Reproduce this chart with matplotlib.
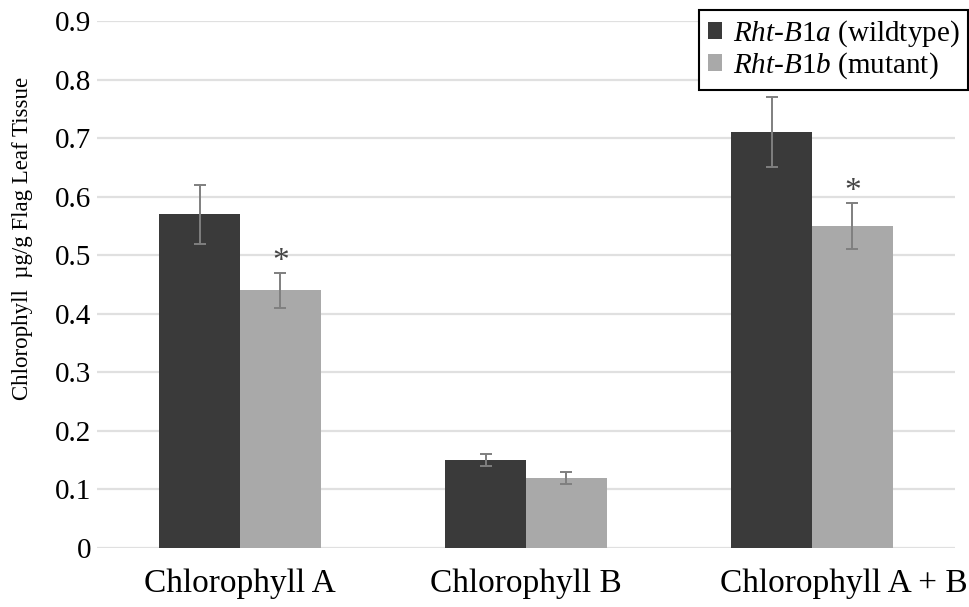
import matplotlib.pyplot as plt
import matplotlib.transforms as mtransforms
import numpy as np

plt.rcParams['font.family'] = 'serif'
plt.rcParams['font.serif'] = ['Liberation Serif', 'DejaVu Serif']
plt.rcParams['mathtext.fontset'] = 'custom'
plt.rcParams['mathtext.rm'] = 'Liberation Serif'
plt.rcParams['mathtext.it'] = 'Liberation Serif:italic'

categories = ['Chlorophyll A', 'Chlorophyll B', 'Chlorophyll A + B']
wildtype = [0.57, 0.15, 0.71]
wildtype_err = [0.05, 0.01, 0.06]
mutant = [0.44, 0.12, 0.55]
mutant_err = [0.03, 0.01, 0.04]
significant = [True, False, True]

X_axis = np.arange(len(categories))
width = 0.283

fig = plt.figure(figsize=(9.7, 6.07), dpi=100)
ax = fig.add_axes([0.100, 0.0972, 0.8845, 0.8682])

ax.yaxis.grid(True, color='#e0e0e0', linewidth=1.6)
ax.set_axisbelow(True)

err_style = dict(ecolor='#7f7f7f', elinewidth=1.4, capsize=4, capthick=1.4)
ax.bar(X_axis - width / 2, wildtype, width, yerr=wildtype_err, color='#3a3a3a',
       label='$\\it{Rht}$-$\\it{B1a}$ (wildtype)', error_kw=err_style)
ax.bar(X_axis + width / 2, mutant, width, yerr=mutant_err, color='#a9a9a9',
       label='$\\it{Rht}$-$\\it{B1b}$ (mutant)', error_kw=err_style)

# significance markers above the mutant bars
for i, sig in enumerate(significant):
    if sig:
        ax.text(X_axis[i] + width / 2, mutant[i] + mutant_err[i] - 0.007, '*',
                ha='center', va='bottom', fontsize=24, color='#444444')

ax.set_xlim(-0.5, 2.5)
ax.set_ylim(0, 0.9)
ax.set_yticks(np.arange(0, 0.91, 0.1))
ax.set_yticklabels(['0'] + [f'{v:.1f}' for v in np.arange(0.1, 0.91, 0.1)])
ax.set_xticks(X_axis, categories)
ax.tick_params(axis='y', length=0, labelsize=21, pad=4)
ax.tick_params(axis='x', length=0, labelsize=24, pad=15)
# last category label sits a little to the right
last = ax.get_xticklabels()[-1]
last.set_transform(last.get_transform() + mtransforms.ScaledTranslation(32 / 100, 0, fig.dpi_scale_trans))
for s in ax.spines.values():
    s.set_visible(False)

ax.set_ylabel('Chlorophyll  µg/g Flag Leaf Tissue', fontsize=16.5)
ax.yaxis.set_label_coords(-0.0746, 0.588)

leg = ax.legend(loc='upper right', bbox_to_anchor=(0.998, 0.984), bbox_transform=fig.transFigure,
                fontsize=21, frameon=True, fancybox=False, edgecolor='black', handlelength=0.5,
                handleheight=0.5, handletextpad=0.35, borderpad=0.3, borderaxespad=0,
                labelspacing=0.05, framealpha=1)
leg.get_frame().set_linewidth(1.5)

plt.savefig('out.png', format='png')
